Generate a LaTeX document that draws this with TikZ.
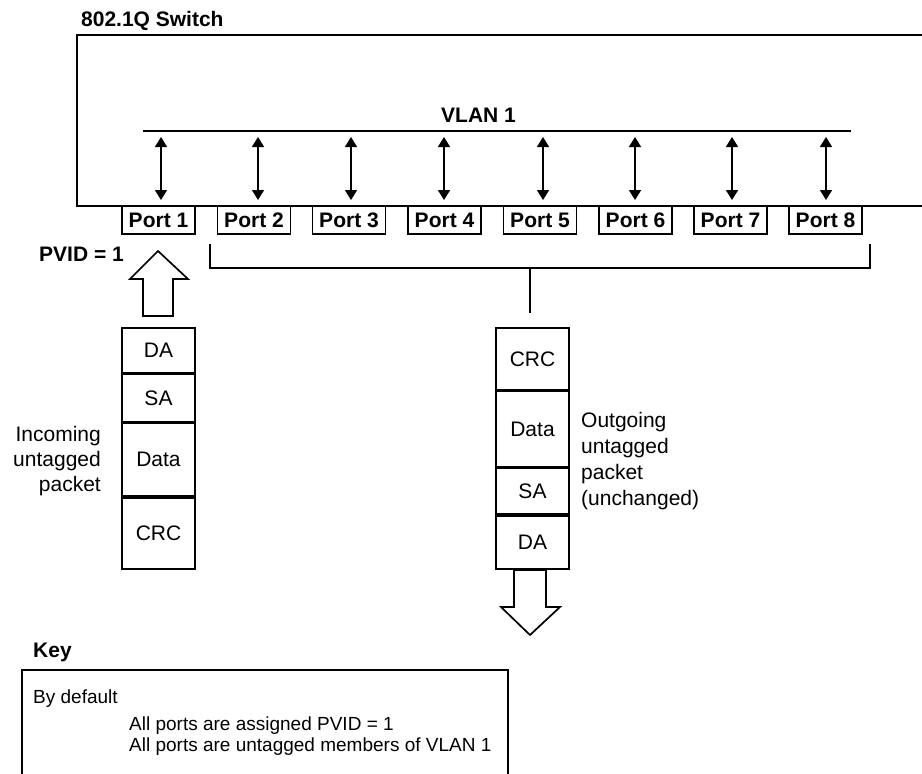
\documentclass[tikz,border=0pt]{standalone}
\usepackage{fontspec}
\setmainfont{Liberation Sans}
\usetikzlibrary{arrows.meta}
\begin{document}
\begin{tikzpicture}[x=1pt,y=-1pt,
  ln/.style={line width=1.7pt, line join=miter},
  portbox/.style={draw, line width=1.7pt, minimum width=73pt, minimum height=28pt, inner sep=0pt, font=\bfseries\fontsize{21}{25}\selectfont},
  field/.style={draw, line width=1.7pt, minimum width=73pt, inner sep=0pt, anchor=north, font=\fontsize{21}{25}\selectfont},
  lbl/.style={inner sep=0pt, font=\fontsize{21}{25}\selectfont},
  blbl/.style={inner sep=0pt, font=\bfseries\fontsize{21}{25}\selectfont},
  keytxt/.style={inner sep=0pt, font=\fontsize{19}{23}\selectfont, anchor=base west},
  dbl/.style={line width=1.6pt, {Triangle[width=12pt,length=10pt]}-{Triangle[width=12pt,length=10pt]}}
]
\useasboundingbox (0,0) rectangle (922,774);

% switch outline (open at right)
\draw[ln] (922,35) -- (77,35) -- (77,206) -- (922,206);
\node[blbl, anchor=base west] (swl) at (81,26) {802.1Q Switch};

% VLAN line
\coordinate (vl) at (143,131);
\coordinate (vr) at (851,131);
\draw[ln] (vl) -- (vr);
\node[blbl, anchor=base west] (vlan) at (441,122) {VLAN 1};

% ports
\foreach \i/\x in {1/158.5,2/254,3/349,4/444.5,5/540,6/635.5,7/730.5,8/825.5}{
  \node[portbox] (p\i) at (\x,220) {Port \i};
}
% double arrows
\foreach \i/\x in {1/161,2/258,3/351,4/444,5/543,6/635,7/732,8/826}{
  \coordinate (t\i) at (\x,137);
  \coordinate (b\i) at (\x,200);
  \draw[dbl] (t\i) -- (b\i);
}

% PVID label and up block arrow
\node[blbl, anchor=base west] (pvid) at (39,261) {PVID = 1};
\draw[ln] (158,251) -- (188,279) -- (173,279) -- (173,316) -- (143,316) -- (143,279) -- (130,279) -- cycle;

% incoming packet
\node[field, minimum height=45pt] (ida) at (158.5,327) {DA};
\node[field, minimum height=47pt] (isa) at (ida.south) {SA};
\node[field, minimum height=73pt] (idata) at (isa.south) {Data};
\node[field, minimum height=71pt] (icrc) at (idata.south) {CRC};
\node[lbl, align=right, anchor=east] (inl) at (101,461.5) {Incoming\\untagged\\packet};

% bracket to outgoing
\coordinate (bl) at (210,244);
\coordinate (br) at (870,244);
\coordinate (bm) at (530,268);
\coordinate (bs) at (530,313);
\draw[ln] (bl) -- (bl |- bm) -- (br |- bm) -- (br);
\draw[ln] (bm) -- (bs);

% outgoing packet
\node[field, minimum height=62pt] (ocrc) at (532.5,327) {CRC};
\node[field, minimum height=75pt] (odata) at (ocrc.south) {Data};
\node[field, minimum height=46pt] (osa) at (odata.south) {SA};
\node[field, minimum height=53pt] (oda) at (osa.south) {DA};
\node[lbl, align=left, anchor=west, font=\fontsize{21}{26}\selectfont] (outl) at (581,461.5) {Outgoing\\untagged\\packet\\(unchanged)};

% down block arrow
\draw[ln] (514,570) -- (546,570) -- (546,607) -- (560,607) -- (530,635) -- (501,607) -- (514,607) -- cycle;

% key
\node[blbl, anchor=base west] (key) at (33,657) {Key};
\draw[ln] (22,774) -- (22,670) -- (508,670) -- (508,774);
\node[keytxt] (k1) at (33,703) {By default};
\node[keytxt] (k2) at (129,730) {All ports are assigned PVID = 1};
\node[keytxt] (k3) at (129,751) {All ports are untagged members of VLAN 1};
\end{tikzpicture}
\end{document}
